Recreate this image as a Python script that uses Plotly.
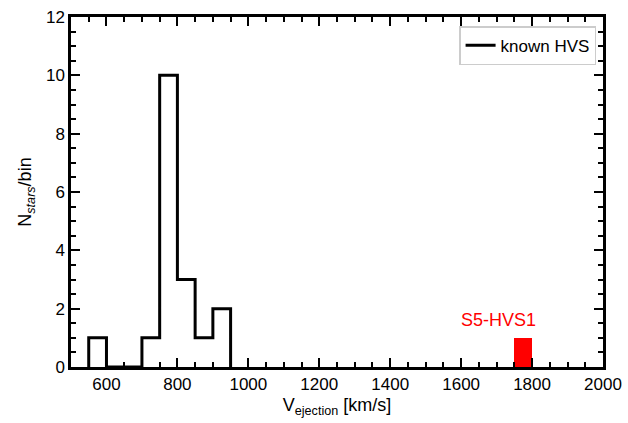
import plotly.graph_objects as go

bin_edges = [550, 600, 650, 700, 750, 800, 850, 900, 950]
known_counts = [1, 0, 0, 1, 10, 3, 1, 2]
s5_center = [1775]
s5_count = [1]
s5_width = 50
s5_label = "S5-HVS1"

step_x = [bin_edges[0]] + bin_edges
step_y = [0] + known_counts + [0]

fig = go.Figure()
fig.add_trace(go.Bar(x=s5_center, y=s5_count, width=s5_width, marker=dict(color="#ff0000", line=dict(width=0)),
                     showlegend=False, hoverinfo="skip"))
fig.add_trace(go.Scatter(x=step_x, y=step_y, mode="lines", line=dict(shape="hv", color="black", width=3),
                         name="known HVS"))
fig.add_annotation(x=1705, y=1.6, text=s5_label, showarrow=False, font=dict(color="#ff0000", size=18))

font = "Liberation Sans, Arial, sans-serif"
axis_common = dict(showline=True, linecolor="black", linewidth=2.5, mirror="ticks", ticks="inside",
                   ticklen=9, tickwidth=1.5, tickcolor="black", showgrid=False, zeroline=False,
                   automargin=False,
                   tickfont=dict(size=17, color="black", family=font))
fig.update_xaxes(range=[500, 2000], dtick=200, tick0=0,
                 minor=dict(dtick=50, ticklen=5, ticks="inside", tickcolor="black", tickwidth=1.5),
                 title=dict(text="V<sub>ejection</sub> [km/s]", font=dict(size=18, color="black", family=font), standoff=6),
                 **axis_common)
fig.update_yaxes(range=[0, 12], dtick=2,
                 minor=dict(dtick=0.5, ticklen=5, ticks="inside", tickcolor="black", tickwidth=1.5),
                 title=dict(text="N<sub><i>stars</i></sub>/bin", font=dict(size=18, color="black", family=font), standoff=10),
                 **axis_common)
fig.update_layout(width=628, height=423, margin=dict(l=71, r=25, t=17, b=56),
                  plot_bgcolor="white", paper_bgcolor="white", font=dict(family=font),
                  legend=dict(x=0.987, y=0.974, xanchor="right", yanchor="top", bgcolor="white",
                              bordercolor="#cccccc", borderwidth=1.5, font=dict(size=17, color="black")),
                  bargap=0)
fig.write_html("out.html", config={"displayModeBar": False})

with open("out.html", "r", encoding="utf-8") as f:
    html = f.read()
html = html.replace("<body>", '<body style="margin:0;padding:0;overflow:hidden">', 1)
with open("out.html", "w", encoding="utf-8") as f:
    f.write(html)
